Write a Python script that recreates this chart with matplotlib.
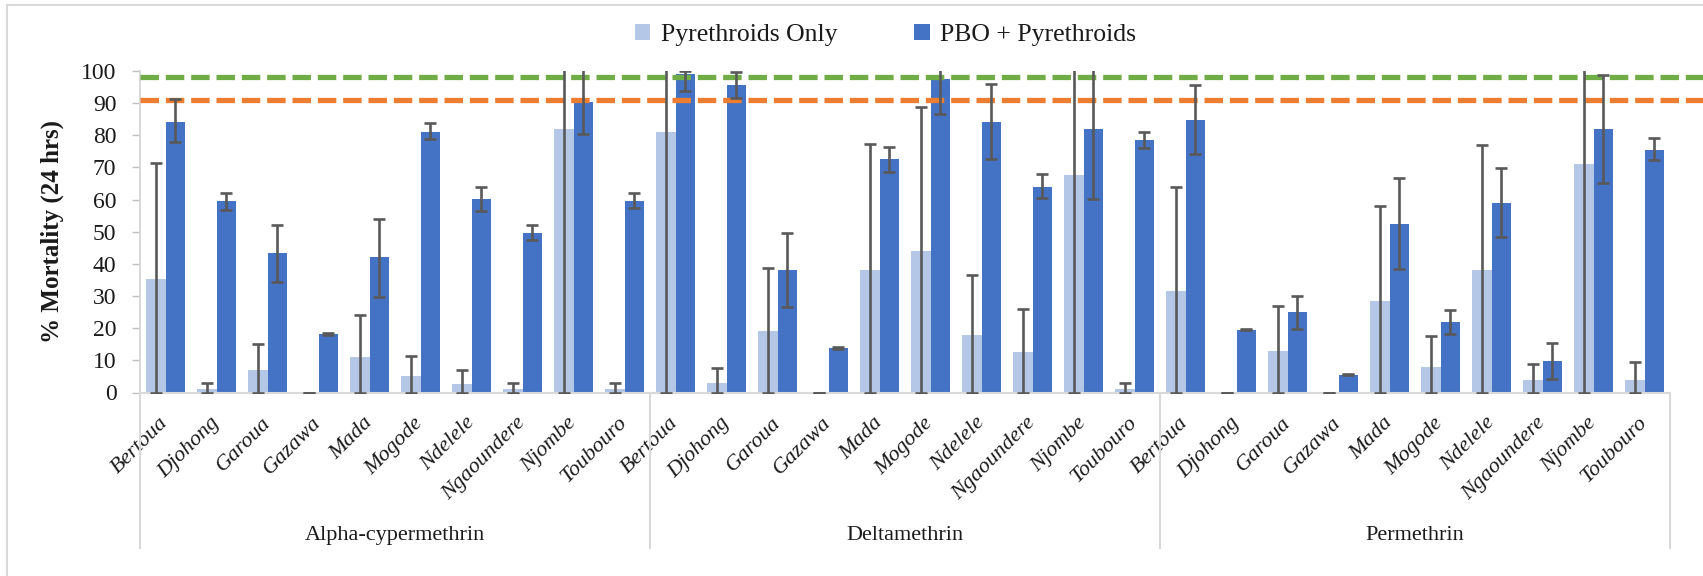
import numpy as np
import matplotlib
matplotlib.use("Agg")
import matplotlib.pyplot as plt
from matplotlib.patches import Patch, Rectangle
from matplotlib.transforms import blended_transform_factory

plt.rcParams["font.family"] = ["Liberation Serif", "DejaVu Serif"]

# ---- data -------------------------------------------------------------
sites = ["Bertoua", "Djohong", "Garoua", "Gazawa", "Mada", "Mogode",
         "Ndelele", "Ngaoundere", "Njombe", "Toubouro"]
insecticides = ["Alpha-cypermethrin", "Deltamethrin", "Permethrin"]
series_names = ["Pyrethroids Only", "PBO + Pyrethroids"]

# % mortality, pyrethroid alone (mean, lower CI, upper CI)
alpha_pyr = [35.4, 1.2, 7.0, 0.0, 11.0, 5.0, 2.7, 1.2, 82.0, 1.2]
alpha_pyr_lo = [0, 0, 0, 0, 0, 0, 0, 0, 0, 0]
alpha_pyr_hi = [71.5, 3.0, 15.0, 0.0, 24.0, 11.5, 7.0, 3.0, 164.0, 3.0]
delta_pyr = [81.0, 3.0, 19.0, 0.0, 38.0, 44.0, 18.0, 12.7, 67.5, 1.2]
delta_pyr_lo = [0, 0, 0, 0, 0, 0, 0, 0, 0, 0]
delta_pyr_hi = [162.0, 7.7, 38.7, 0.0, 77.3, 88.8, 36.4, 26.1, 135.0, 3.0]
perm_pyr = [31.5, 0.0, 13.0, 0.0, 28.5, 8.0, 38.0, 3.8, 71.0, 4.0]
perm_pyr_lo = [0, 0, 0, 0, 0, 0, 0, 0, 0, 0]
perm_pyr_hi = [64.0, 0.0, 27.0, 0.0, 58.0, 17.5, 77.0, 9.0, 142.0, 9.5]

# % mortality, PBO pre-exposure + pyrethroid (mean, lower CI, upper CI)
alpha_pbo = [84.0, 59.5, 43.3, 18.2, 42.0, 81.0, 60.2, 49.5, 90.3, 59.5]
alpha_pbo_lo = [77.8, 56.9, 34.3, 18.0, 29.8, 79.0, 56.3, 47.4, 80.3, 57.5]
alpha_pbo_hi = [91.2, 61.9, 52.0, 18.5, 53.9, 83.7, 63.9, 52.1, 100.5, 61.9]
delta_pbo = [99.0, 95.5, 38.0, 13.8, 72.5, 97.5, 84.0, 64.0, 82.0, 78.5]
delta_pbo_lo = [93.7, 91.5, 26.5, 13.6, 68.6, 86.6, 72.6, 60.6, 60.2, 76.1]
delta_pbo_hi = [100.0, 99.8, 49.6, 14.0, 76.4, 104.0, 96.1, 67.9, 104.0, 81.0]
perm_pbo = [84.8, 19.5, 25.0, 5.5, 52.5, 21.8, 59.0, 9.7, 82.0, 75.5]
perm_pbo_lo = [74.2, 19.3, 19.8, 5.3, 38.4, 18.1, 48.3, 4.1, 65.1, 72.3]
perm_pbo_hi = [95.8, 19.7, 30.0, 5.6, 66.6, 25.7, 69.8, 15.3, 98.9, 79.3]

# WHO susceptibility thresholds (% mortality)
susceptible_threshold = 98
resistance_threshold = 91

# ---- assemble ---------------------------------------------------------
pyr = np.array(alpha_pyr + delta_pyr + perm_pyr)
pyr_lo = np.array(alpha_pyr_lo + delta_pyr_lo + perm_pyr_lo)
pyr_hi = np.array(alpha_pyr_hi + delta_pyr_hi + perm_pyr_hi)
pbo = np.array(alpha_pbo + delta_pbo + perm_pbo)
pbo_lo = np.array(alpha_pbo_lo + delta_pbo_lo + perm_pbo_lo)
pbo_hi = np.array(alpha_pbo_hi + delta_pbo_hi + perm_pbo_hi)
labels = sites * len(insecticides)
x = np.arange(len(labels))

light = "#B4C7E7"
dark = "#4472C4"
grid_grey = "#D9D9D9"
err_col = "#595959"
text_col = "#1A1A1A"

W, H = 1703, 576
fig = plt.figure(figsize=(W / 100, H / 100), dpi=100)
ax = fig.add_axes([140 / W, 183.5 / H, 1530 / W, 321.5 / H])

bw = 0.375
off = 0.1875
ax.bar(x - off, pyr, width=bw, color=light, zorder=2)
ax.bar(x + off, pbo, width=bw, color=dark, zorder=2)

err_kw = dict(fmt="none", ecolor=err_col, elinewidth=1.9, capsize=4.3,
              capthick=1.9, zorder=5)
ax.errorbar(x - off, pyr, yerr=[pyr - pyr_lo, pyr_hi - pyr], **err_kw)
ax.errorbar(x + off, pbo, yerr=[pbo - pbo_lo, pbo_hi - pbo], **err_kw)

# threshold lines run from the value axis to the right edge of the figure
tr_h = blended_transform_factory(ax.transAxes, ax.transData)
ax.plot([0, 1.03], [susceptible_threshold] * 2, transform=tr_h,
        color="#70AD47", lw=3.8, dashes=(3.5, 1.3), clip_on=False, zorder=4)
ax.plot([0, 1.03], [resistance_threshold] * 2, transform=tr_h,
        color="#ED7D31", lw=3.8, dashes=(3.5, 1.3), clip_on=False, zorder=4)

ax.set_xlim(-0.5, len(labels) - 0.5)
ax.set_ylim(0, 100)
ax.set_yticks(np.arange(0, 101, 10))
ax.tick_params(axis="y", length=6, width=1, color="#BFBFBF", pad=11,
               labelsize=17, labelcolor=text_col)
ax.set_xticks(x)
ax.set_xticklabels(labels, rotation=45, ha="right", va="center",
                   rotation_mode="anchor", fontstyle="italic", fontsize=16,
                   color=text_col)
ax.tick_params(axis="x", length=0, pad=20)

for s in ("top", "right"):
    ax.spines[s].set_visible(False)
ax.spines["left"].set_color(grid_grey)
ax.spines["left"].set_linewidth(1.5)
ax.spines["bottom"].set_color(grid_grey)
ax.spines["bottom"].set_linewidth(1.5)

ax.set_ylabel("% Mortality (24 hrs)", fontsize=18, fontweight="bold",
              color=text_col, labelpad=12)

# grouped category axis: dividers and insecticide names
tr_v = blended_transform_factory(ax.transData, ax.transAxes)
n = len(sites)
for k in range(len(insecticides) + 1):
    xb = k * n - 0.5
    ax.plot([xb, xb], [0, -0.484], transform=tr_v, color=grid_grey,
            lw=1.5, clip_on=False)
for k, name in enumerate(insecticides):
    ax.text(k * n + (n - 1) / 2, -0.445, name, transform=tr_v, ha="center",
            va="center", fontsize=16, color=text_col)

handles = [Patch(facecolor=light), Patch(facecolor=dark)]
fig.legend(handles, series_names, loc="center", bbox_to_anchor=(0.52, 0.939),
           ncol=2, frameon=False, fontsize=18.5, handlelength=0.6,
           handleheight=0.6, handletextpad=0.4, columnspacing=3.0,
           labelcolor=text_col)

# chart frame
fig.patches.append(Rectangle((6.7 / W, -0.1), 1.2, (H - 5) / H + 0.1,
                             transform=fig.transFigure, fill=False,
                             ec=grid_grey, lw=1.5))

fig.savefig("out.png", dpi=100)
